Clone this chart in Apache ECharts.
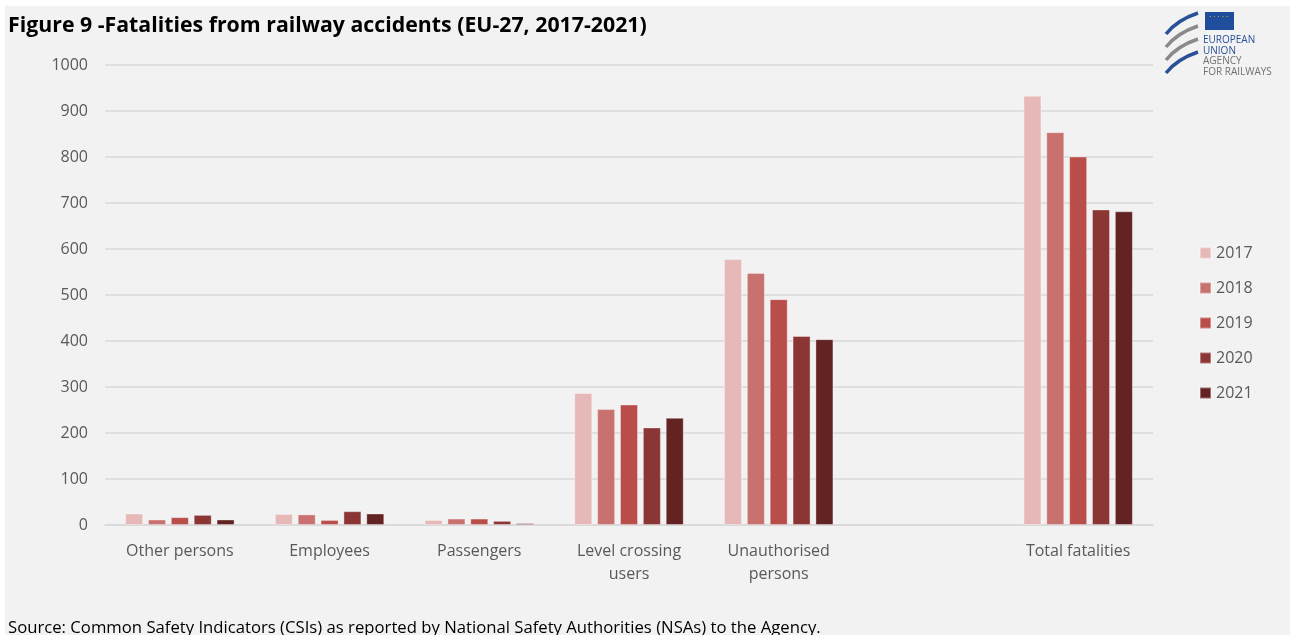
<!DOCTYPE html>
<html><head><meta charset="utf-8">
<script src="https://cdn.jsdelivr.net/npm/echarts@6/dist/echarts.min.js"></script>
<style>html,body{margin:0;padding:0;background:#fff;}#c{position:absolute;left:5px;top:6px;width:1285px;height:629px;background:#f2f2f2;}</style>
</head><body><div id="c"></div>
<script>
var categories = ['Other persons','Employees','Passengers','Level crossing\nusers','Unauthorised\npersons','','Total fatalities'];
var years = ['2017','2018','2019','2020','2021'];
var v2017 = [25, 24, 11, 287, 578, null, 933];
var v2018 = [12, 23, 14, 252, 548, null, 854];
var v2019 = [17, 11, 14, 262, 491, null, 801];
var v2020 = [22, 30, 9, 212, 411, null, 686];
var v2021 = [12, 25, 4, 233, 404, null, 682];
var yTicks = [0,100,200,300,400,500,600,700,800,900,1000];
var colors = ['#e6b8b7','#c8716f','#b94d4a','#8b3634','#632323'];
var seriesData = [v2017, v2018, v2019, v2020, v2021];

var chart = echarts.init(document.getElementById('c'), null, {renderer:'canvas'});
var font = '"Open Sans", Lato, sans-serif';
var series = years.map(function(y,i){
  return {name:y, type:'bar', data:seriesData[i], barWidth:18, barGap:'27%',
    itemStyle:{color:colors[i], borderColor:'rgba(255,255,255,0.35)', borderWidth:1}};
});
chart.setOption({
  backgroundColor:'#f2f2f2',
  animation:false,
  color:colors,
  title:{text:'Figure 9 -Fatalities from railway accidents (EU-27, 2017-2021)', left:-2, top:4,
    textStyle:{fontFamily:font, fontSize:21.3, fontWeight:'bold', color:'#000'}},
  legend:{orient:'vertical', left:1189, top:234, itemWidth:11, itemHeight:11, itemGap:19,
    icon:'rect', textStyle:{fontFamily:font, fontSize:16, color:'#595959'}, data:years},
  grid:{left:100, right:137, top:59, bottom:110, containLabel:false},
  xAxis:{type:'category', data:categories,
    axisLine:{lineStyle:{color:'#d9d9d9', width:1.5}}, axisTick:{show:false},
    axisLabel:{fontFamily:font, fontSize:16, color:'#595959', lineHeight:23, margin:15, interval:0}},
  yAxis:{type:'value', min:yTicks[0], max:yTicks[yTicks.length-1], interval:100,
    axisLine:{show:false}, axisTick:{show:false},
    splitLine:{lineStyle:{color:'#d9d9d9', width:1.5}},
    axisLabel:{fontFamily:font, fontSize:16, color:'#595959', margin:17, formatter:function(v){return String(v);}}},
  series:series,
  graphic:[
    {type:'text', left:3, top:614, style:{text:'Source: Common Safety Indicators (CSIs) as reported by National Safety Authorities (NSAs) to the Agency.', font:'16.7px '+font, fill:'#000'}},
    {type:'rect', shape:{x:1200, y:6, width:29, height:18}, style:{fill:'#1f4e9c'}},
    {type:'text', x:1204, y:8, style:{text:'· · · · ·', font:'7px sans-serif', fill:'#f5d21f'}},
    {type:'text', x:1198, y:29, style:{text:'EUROPEAN\nUNION', font:'10px '+font, fill:'#2a5198', lineHeight:10.5}},
    {type:'text', x:1198, y:50, style:{text:'AGENCY\nFOR RAILWAYS', font:'10px '+font, fill:'#707070', lineHeight:10.5}},
    {type:'bezierCurve', shape:{x1:1161,y1:28,x2:1193,y2:7,cpx1:1172,cpy1:14}, style:{stroke:'#2a5198', lineWidth:3.5, fill:'none'}},
    {type:'bezierCurve', shape:{x1:1161,y1:41,x2:1193,y2:20,cpx1:1172,cpy1:27}, style:{stroke:'#8a8a8a', lineWidth:3.5, fill:'none'}},
    {type:'bezierCurve', shape:{x1:1161,y1:54,x2:1193,y2:33,cpx1:1172,cpy1:40}, style:{stroke:'#8a8a8a', lineWidth:3.5, fill:'none'}},
    {type:'bezierCurve', shape:{x1:1161,y1:67,x2:1193,y2:46,cpx1:1172,cpy1:53}, style:{stroke:'#2a5198', lineWidth:3.5, fill:'none'}}
  ]
});
</script></body></html>
